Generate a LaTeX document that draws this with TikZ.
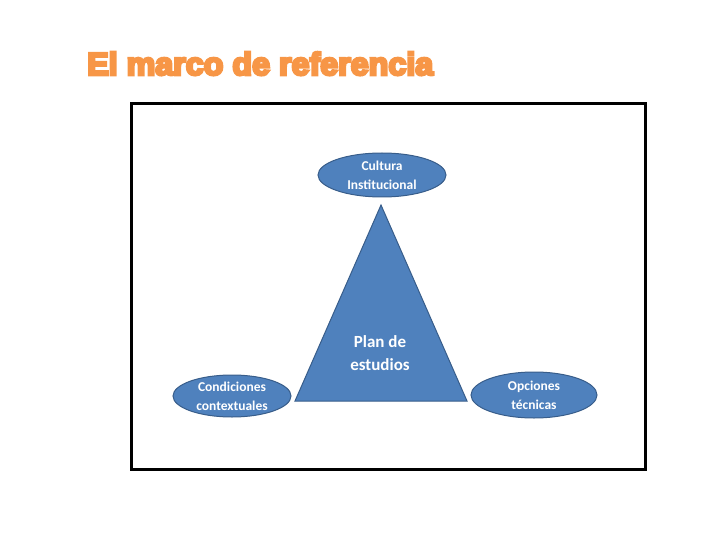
\documentclass[tikz,border=0pt]{standalone}
\usepackage{fontspec}
\setmainfont{Carlito}
\newfontfamily\titlefont{Liberation Sans}
\usetikzlibrary{shapes.geometric}
\definecolor{blu}{HTML}{4F81BD}
\definecolor{blub}{HTML}{385D8A}
\definecolor{orng}{HTML}{F79646}
\tikzset{
  oval/.style={ellipse, fill=blu, draw=blub, line width=1pt, text=white, font=\bfseries\fontsize{13.5}{19}\selectfont, align=center, inner sep=0pt},
}
\begin{document}
\begin{tikzpicture}[x=1pt,y=-1pt]
\useasboundingbox (0,0) rectangle (720,540);
\node[anchor=base west, inner sep=0pt, text=orng] (title) at (87,75) {\resizebox{346pt}{23pt}{\special{pdf:code 2 Tr 0.8 w}\titlefont\bfseries El marco de referencia\special{pdf:code 0 Tr}}};
\draw[line width=3pt] (131,104) rectangle (645,469);
\coordinate (apex) at (381,205);
\coordinate (bl) at (295,401);
\coordinate (br) at (467,401);
\draw[fill=blu, draw=blub, line width=1pt] (apex) -- (bl) -- (br) -- cycle;
\node[text=white, font=\bfseries\fontsize{17}{23}\selectfont, align=center] (plan) at (380,353) {Plan de\\estudios};
\node[oval, minimum width=128pt, minimum height=44pt] (cult) at (382,175) {Cultura\\Institucional};
\node[oval, minimum width=118pt, minimum height=42pt] (cond) at (232,396) {Condiciones\\contextuales};
\node[oval, minimum width=126pt, minimum height=46pt] (opc) at (534,395) {Opciones\\técnicas};
\end{tikzpicture}
\end{document}
